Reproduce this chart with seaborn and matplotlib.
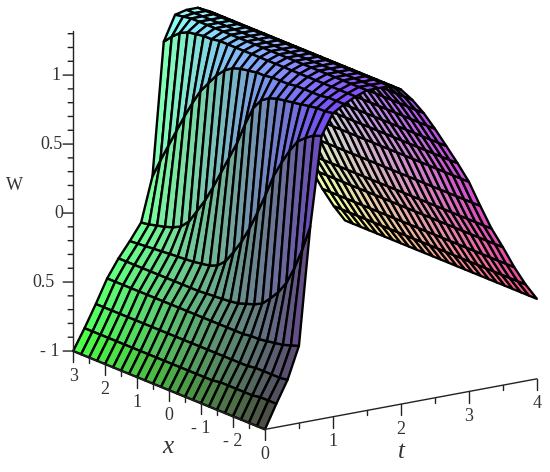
import numpy as np
import matplotlib
matplotlib.use('Agg')
import matplotlib.pyplot as plt
from mpl_toolkits.mplot3d import proj3d
import seaborn as sns

sns.set_style('white')
plt.rcParams['font.family'] = ['Liberation Serif', 'DejaVu Serif']

# grid of the surface (25 x 25 points)
t_values = [0, 0.167, 0.333, 0.5, 0.667, 0.833, 1, 1.167, 1.333, 1.5, 1.667, 1.833, 2,
            2.167, 2.333, 2.5, 2.667, 2.833, 3, 3.167, 3.333, 3.5, 3.667, 3.833, 4]
x_values = [3, 2.75, 2.5, 2.25, 2, 1.75, 1.5, 1.25, 1, 0.75, 0.5, 0.25, 0, -0.25, -0.5,
            -0.75, -1, -1.25, -1.5, -1.75, -2, -2.25, -2.5, -2.75, -3]

w_rise = [
    [-1, -0.85, -0.69, -0.52, -0.39, -0.28, -0.16, 0.16, 1.12, 1.30],
    [-1, -0.85, -0.69, -0.52, -0.39, -0.275, -0.15, 0.30, 1.18, 1.31],
    [-1, -0.85, -0.69, -0.52, -0.39, -0.27, -0.135, 0.43, 1.23, 1.32],
    [-1, -0.85, -0.69, -0.52, -0.39, -0.265, -0.12, 0.56, 1.26, 1.32],
    [-1, -0.85, -0.69, -0.52, -0.39, -0.26, -0.10, 0.69, 1.27, 1.32],
    [-1, -0.85, -0.69, -0.52, -0.39, -0.255, -0.07, 0.81, 1.28, 1.32],
    [-1, -0.85, -0.69, -0.52, -0.39, -0.25, -0.01, 0.92, 1.28, 1.32],
    [-1, -0.85, -0.69, -0.52, -0.39, -0.245, 0.09, 1.00, 1.29, 1.32],
    [-1, -0.85, -0.69, -0.52, -0.39, -0.24, 0.19, 1.08, 1.29, 1.32],
    [-1, -0.85, -0.69, -0.52, -0.39, -0.23, 0.31, 1.14, 1.29, 1.32],
    [-1, -0.85, -0.69, -0.52, -0.39, -0.22, 0.44, 1.18, 1.29, 1.32],
    [-1, -0.85, -0.69, -0.52, -0.385, -0.195, 0.57, 1.20, 1.29, 1.32],
    [-1, -0.85, -0.69, -0.52, -0.38, -0.14, 0.70, 1.21, 1.29, 1.32],
    [-1, -0.85, -0.69, -0.52, -0.375, -0.05, 0.86, 1.22, 1.29, 1.32],
    [-1, -0.85, -0.69, -0.52, -0.37, 0.05, 1.00, 1.22, 1.29, 1.32],
    [-1, -0.85, -0.69, -0.52, -0.36, 0.17, 1.08, 1.23, 1.29, 1.32],
    [-1, -0.85, -0.69, -0.52, -0.34, 0.31, 1.12, 1.23, 1.29, 1.32],
    [-1, -0.84, -0.69, -0.52, -0.32, 0.46, 1.14, 1.23, 1.29, 1.32],
    [-1, -0.84, -0.69, -0.51, -0.29, 0.62, 1.15, 1.24, 1.29, 1.32],
    [-1, -0.84, -0.69, -0.51, -0.23, 0.74, 1.16, 1.24, 1.29, 1.32],
    [-1, -0.84, -0.68, -0.50, -0.16, 0.85, 1.17, 1.24, 1.29, 1.32],
    [-1, -0.84, -0.68, -0.49, -0.07, 0.94, 1.18, 1.24, 1.29, 1.32],
    [-1, -0.83, -0.68, -0.48, 0.06, 0.99, 1.19, 1.25, 1.29, 1.32],
    [-1, -0.83, -0.68, -0.46, 0.22, 1.03, 1.19, 1.25, 1.29, 1.32],
    [-1, -0.83, -0.67, -0.44, 0.41, 1.05, 1.20, 1.25, 1.29, 1.32],
]
# W on the falling side, about the same for every x, t = 1.667 ... 4
w_fall = [1.32, 1.32, 1.28, 1.19, 1.08, 0.95, 0.81, 0.67, 0.52, 0.33, 0.15, 0, -0.16, -0.30, -0.42]

w_major = [-1, -0.5, 0, 0.5, 1]
w_labels = ['- 1', '0.5', '0', '0.5', '1']
w_label_dx = [-14, -19, -10, -11, -13]
x_major = [3, 2, 1, 0, -1, -2]
x_labels = ['3', '2', '1', '0', '- 1', '- 2']
t_major = [0, 1, 2, 3, 4]
t_labels = ['0', '1', '2', '3', '4']

T, X = np.meshgrid(t_values, x_values)
W = np.hstack([np.array(w_rise), np.tile(w_fall, (len(x_values), 1))])

# colour by position: red follows t, green follows x, blue follows W
red = 0.3 + 0.7 * T / 4
green = 0.28 + 0.72 * (X + 3) / 6
blue = 0.28 + 0.72 * ((W + 1) / 2.32) ** 0.75
rgb = np.clip(np.dstack([red, green, blue]), 0, 1)

fig = plt.figure(figsize=(5.5, 4.72), dpi=100, facecolor='white')
ax = fig.add_axes([-3.1 / 550, -41 / 472, 600 / 550, 600 / 472], projection='3d')
ax.set_proj_type('ortho')
ax.view_init(elev=16, azim=-124)
ax.set_box_aspect((328, 343, 333), zoom=0.938)

surf = ax.plot_surface(T, X, W, facecolors=rgb, rstride=1, cstride=1, shade=False, linewidth=1.7)
surf.set_edgecolor('black')

ax.set_xlim(0, 4, view_margin=0)
ax.set_ylim(-3, 3, view_margin=0)
ax.set_zlim(-1, 1.32, view_margin=0)
ax.set_axis_off()

axis_color = '#222222'
text_color = '#333333'
lw = 1.0

# the three axis lines
ax.plot([0, 0], [3, 3], [-1, 1.32], color=axis_color, lw=lw, zorder=10)
ax.plot([0, 4], [-3, -3], [-1, -1], color=axis_color, lw=lw, zorder=10)
ax.plot([0, 0], [-3, 3], [-1, -1], color=axis_color, lw=lw, zorder=10)


# W ticks go left on screen, x and t ticks go straight down
def w_tick(w, length):
    ax.plot([0, -length / 98.7], [3, 3 + length / 102.7], [w, w], color=axis_color, lw=lw, zorder=10)


for w in np.arange(-1, 1.31, 0.1):
    major = min(abs(w - m) for m in w_major) < 0.01
    w_tick(w, 10 if major else 5)
for x in np.arange(-3, 3.01, 0.5):
    size = 11 / 137 if x == int(x) else 5 / 137
    ax.plot([0, 0], [x, x], [-1, -1 - size], color=axis_color, lw=lw, zorder=10)
for t in np.arange(0.5, 4.01, 0.5):
    size = 11 / 137 if t == int(t) else 5 / 137
    ax.plot([t, t], [-3, -3], [-1, -1 - size], color=axis_color, lw=lw, zorder=10)

# text goes on the figure, at the projected position of its data point
fig.canvas.draw()


def label(t, x, w, s, dx, dy, ha='center', **kw):
    u, v, _ = proj3d.proj_transform(t, x, w, ax.get_proj())
    px, py = ax.transData.transform((u, v))
    fig.text((px + dx) / 550, (py + dy) / 472, s, ha=ha, va='center', color=text_color, **kw)


for w, lab, dx in zip(w_major, w_labels, w_label_dx):
    label(0, 3, w, lab, dx, 0, ha='right', fontsize=13)
for x, lab in zip(x_major, x_labels):
    label(0, x, -1, lab, 0, -25, fontsize=13)
for t, lab in zip(t_major, t_labels):
    label(t, -3, -1, lab, 0, -25, fontsize=13)

# axis titles
label(0, 3, 0.2, 'W', -59, 0, fontsize=13)
label(0, 0, -1, 'x', -1, -57, fontsize=18, style='italic')
label(2, -3, -1, 't', 0, -48, fontsize=18, style='italic')

fig.savefig('out.png', dpi=100)
